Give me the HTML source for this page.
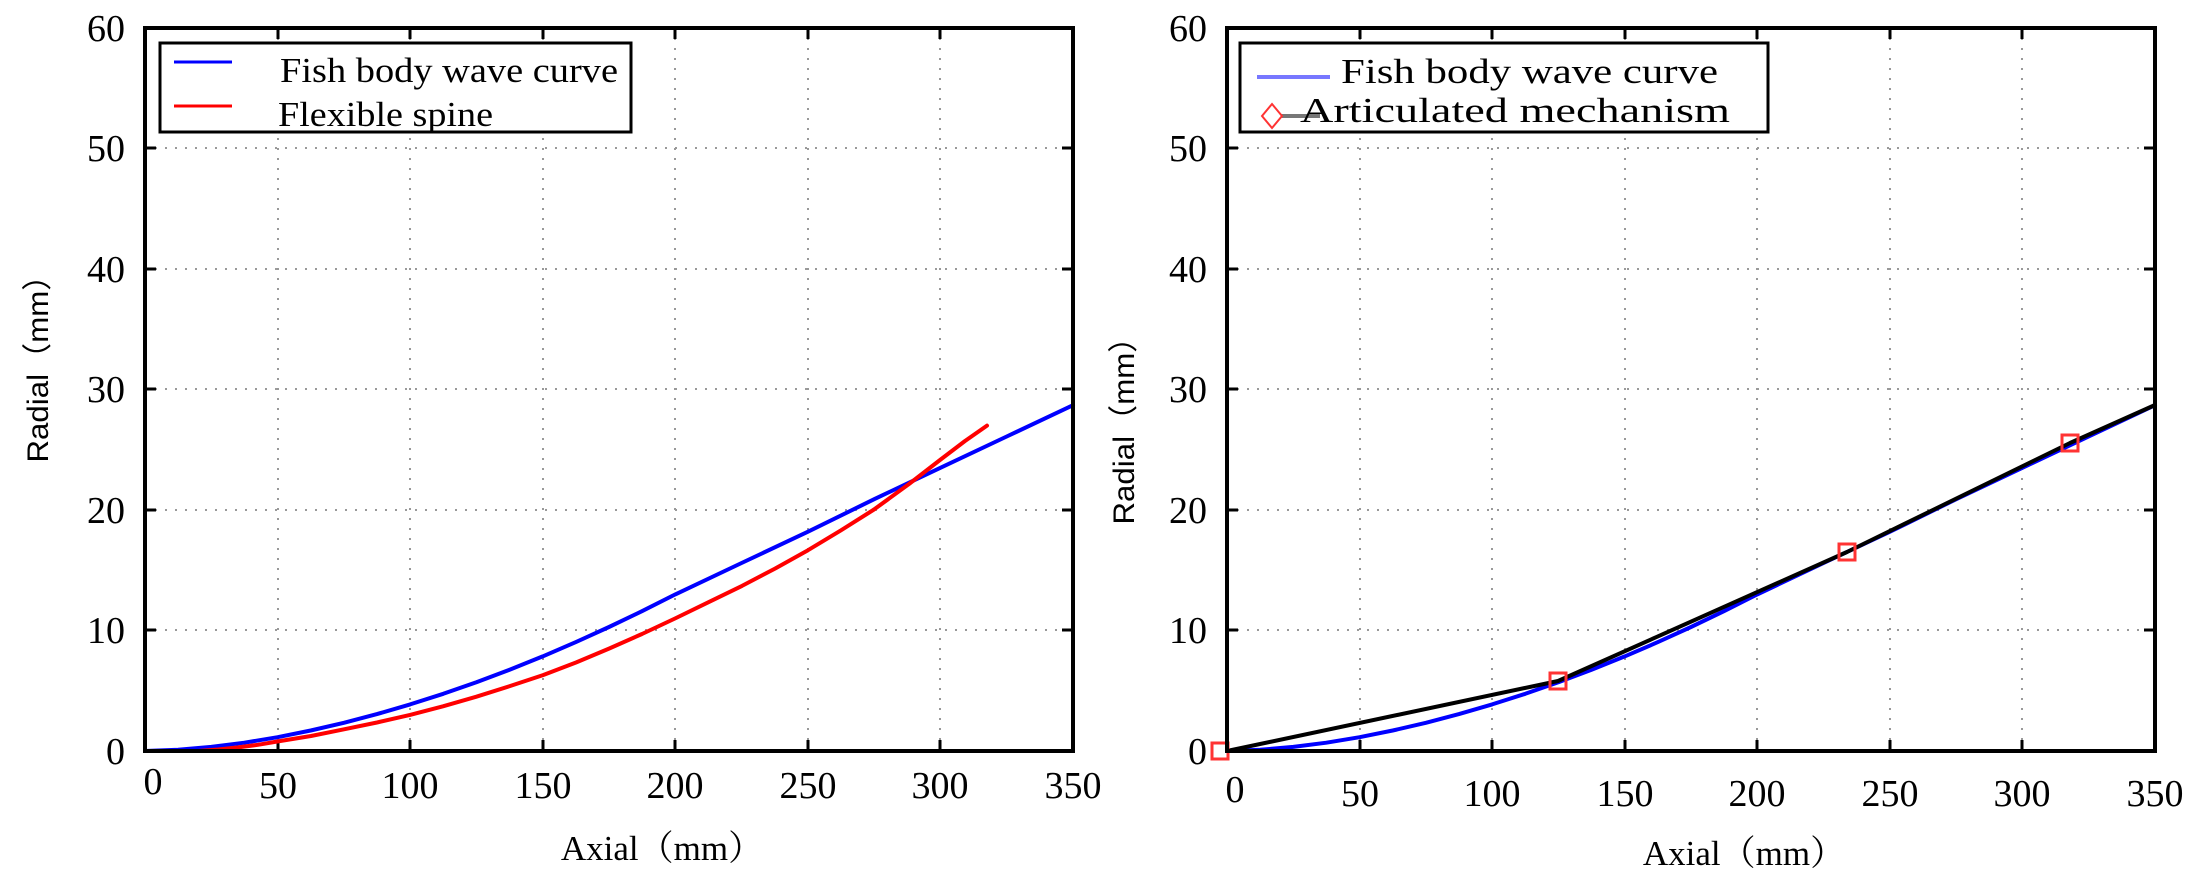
<!DOCTYPE html>
<html><head><meta charset="utf-8"><style>
html,body{margin:0;padding:0;background:#fff;}
svg{display:block;}
.t{font-family:"Liberation Serif","Noto Serif CJK SC",serif;font-size:35px;fill:#000;}
.k{font-family:"Liberation Serif",serif;font-size:38px;fill:#000;}
.s{font-family:"Liberation Sans","Noto Sans CJK SC",sans-serif;font-size:30px;fill:#000;}
</style></head><body>
<svg width="2195" height="876" viewBox="0 0 2195 876" xmlns="http://www.w3.org/2000/svg">
<defs>
<g id="grid">
<g stroke="#999" stroke-width="2" stroke-dasharray="2,8" fill="none">
<line x1="133" y1="28" x2="133" y2="751"/><line x1="265" y1="28" x2="265" y2="751"/><line x1="398" y1="28" x2="398" y2="751"/>
<line x1="530" y1="28" x2="530" y2="751"/><line x1="663" y1="28" x2="663" y2="751"/><line x1="795" y1="28" x2="795" y2="751"/>
<line x1="0" y1="630" x2="928" y2="630"/><line x1="0" y1="510" x2="928" y2="510"/><line x1="0" y1="389" x2="928" y2="389"/>
<line x1="0" y1="269" x2="928" y2="269"/><line x1="0" y1="148" x2="928" y2="148"/>
</g>
<g stroke="#000" stroke-width="3">
<line x1="133" y1="751" x2="133" y2="740"/><line x1="265" y1="751" x2="265" y2="740"/><line x1="398" y1="751" x2="398" y2="740"/><line x1="530" y1="751" x2="530" y2="740"/><line x1="663" y1="751" x2="663" y2="740"/><line x1="795" y1="751" x2="795" y2="740"/>
<line x1="133" y1="28" x2="133" y2="39"/><line x1="265" y1="28" x2="265" y2="39"/><line x1="398" y1="28" x2="398" y2="39"/><line x1="530" y1="28" x2="530" y2="39"/><line x1="663" y1="28" x2="663" y2="39"/><line x1="795" y1="28" x2="795" y2="39"/>
<line x1="0" y1="630" x2="11" y2="630"/><line x1="0" y1="510" x2="11" y2="510"/><line x1="0" y1="389" x2="11" y2="389"/><line x1="0" y1="269" x2="11" y2="269"/><line x1="0" y1="148" x2="11" y2="148"/>
<line x1="928" y1="630" x2="917" y2="630"/><line x1="928" y1="510" x2="917" y2="510"/><line x1="928" y1="389" x2="917" y2="389"/><line x1="928" y1="269" x2="917" y2="269"/><line x1="928" y1="148" x2="917" y2="148"/>
</g>
</g>
<g id="ylab" class="k" text-anchor="end">
<text x="-20" y="764">0</text><text x="-20" y="643">10</text><text x="-20" y="523">20</text><text x="-20" y="402">30</text>
<text x="-20" y="282">40</text><text x="-20" y="161">50</text><text x="-20" y="41">60</text>
</g>
<g id="xlab" class="k" text-anchor="middle">
<text x="8" y="794">0</text><text x="133" y="798">50</text><text x="265" y="798">100</text><text x="398" y="798">150</text>
<text x="530" y="798">200</text><text x="663" y="798">250</text><text x="795" y="798">300</text><text x="928" y="798">350</text>
</g>
<polyline id="blue" fill="none" stroke="#0000ff" stroke-width="4" stroke-linejoin="round" stroke-linecap="round" points="0,751 33.1,749.8 66.3,746.9 99.4,742.7 132.6,737.2 165.7,730.5 198.9,722.8 232,714.1 265.1,704.4 298.3,693.8 331.4,682.2 364.6,669.7 397.7,656.4 430.9,642.1 464,627 497.2,611.1 530.3,594.4 596.6,563 663,531.7 729.2,499.2 795.4,467.8 861.7,436.5 928,405.2"/>
</defs>

<!-- LEFT PLOT -->
<g transform="translate(145,0)">
<use href="#grid"/>
<use href="#ylab"/>
<use href="#xlab"/>
<use href="#blue"/>
</g>
<polyline fill="none" stroke="#ff0000" stroke-width="4" stroke-linejoin="round" stroke-linecap="round" points="198,751 218,749.5 238,747.4 258,744.8 278,741.4 311,736 344,729.3 377,722.5 410,714.9 443,706.3 476,696.8 509,686.4 543,675.1 576,662.5 609,648.6 642,634 675,618.5 708,602.4 742,585.9 775,568.6 808,550.2 841,530.3 874,509.5 909,484 940,460 965,441 987,425.6"/>
<rect x="145" y="28" width="928" height="723" fill="none" stroke="#000" stroke-width="4"/>
<rect x="160" y="43" width="471" height="89" fill="#fff" stroke="#000" stroke-width="3"/>
<line x1="174" y1="62" x2="232" y2="62" stroke="#0000ff" stroke-width="3"/>
<line x1="174" y1="106" x2="232" y2="106" stroke="#ff0000" stroke-width="3"/>
<text class="t" x="280" y="82" textLength="338" lengthAdjust="spacingAndGlyphs">Fish body wave curve</text>
<text class="t" x="278" y="126" textLength="215" lengthAdjust="spacingAndGlyphs">Flexible spine</text>
<text class="t" x="662" y="860" text-anchor="middle">Axial（mm）</text>
<text class="s" transform="translate(48,361) rotate(-90)" text-anchor="middle" textLength="203" lengthAdjust="spacingAndGlyphs">Radial（mm）</text>

<!-- RIGHT PLOT -->
<g transform="translate(1227,0)">
<use href="#grid"/>
<use href="#ylab"/>
<g transform="translate(0,8)"><use href="#xlab"/></g>
<use href="#blue"/>
</g>
<polyline fill="none" stroke="#000" stroke-width="4" stroke-linejoin="round" points="1227,751 1558,681 1847,552 2070,443 2155,405"/>
<g fill="none" stroke="#ff3333" stroke-width="3">
<rect x="1212" y="743" width="16" height="16"/>
<rect x="1550" y="673" width="16" height="16"/>
<rect x="1839" y="544" width="16" height="16"/>
<rect x="2062" y="435" width="16" height="16"/>
</g>
<rect x="1227" y="28" width="928" height="723" fill="none" stroke="#000" stroke-width="4"/>
<rect x="1240" y="43" width="528" height="89" fill="#fff" stroke="#000" stroke-width="3"/>
<line x1="1257" y1="77" x2="1330" y2="77" stroke="#7777ff" stroke-width="4"/>
<line x1="1280" y1="116" x2="1320" y2="116" stroke="#777" stroke-width="4"/>
<polygon points="1272,104 1282,116 1272,128 1262,116" fill="#fff" stroke="#ff3333" stroke-width="2"/>
<text class="t" x="1341" y="83" textLength="377" lengthAdjust="spacingAndGlyphs">Fish body wave curve</text>
<text class="t" x="1300" y="122" textLength="430" lengthAdjust="spacingAndGlyphs">Articulated mechanism</text>
<text class="t" x="1744" y="865" text-anchor="middle">Axial（mm）</text>
<text class="s" transform="translate(1134,423) rotate(-90)" text-anchor="middle" textLength="203" lengthAdjust="spacingAndGlyphs">Radial（mm）</text>
</svg>
</body></html>
